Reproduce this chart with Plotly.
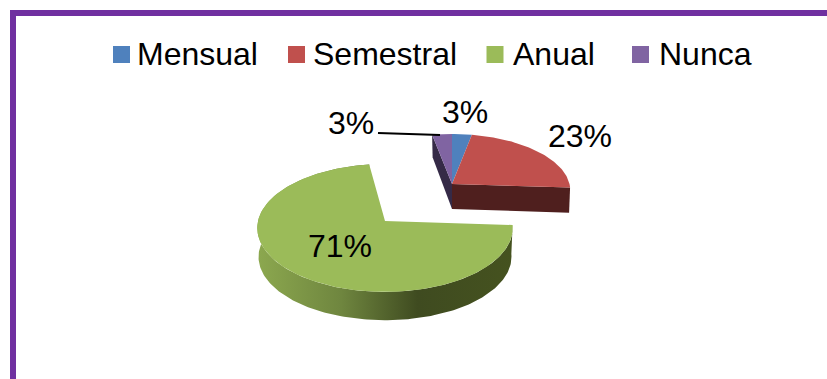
import math
import plotly.graph_objects as go

categories = ["Mensual", "Semestral", "Anual", "Nunca"]
values = [3, 23, 71, 3]
colors = ["#4F81BD", "#C0504D", "#9BBB59", "#8064A2"]

# layout of the hand-placed legend and labels (pixels)
legend_swatch_x = [121.5, 296.5, 495, 640.5]
legend_text_x = [137, 313, 513, 659]
label_pos = [(465, 111.5), (580, 136), (340, 246), (351, 123)]

W, H = 827, 379
PERSP = 0.109
FONT = "Liberation Sans, Arial, sans-serif"
FS = 32


def project(cx, cy, rx, ry, pct):
    a = 2 * math.pi * pct / 100.0
    u, v = math.sin(a), math.cos(a)
    d = 1 + PERSP * v
    return cx + rx * u / d, cy - ry * v / d, d


def arc(cx, cy, rx, ry, p0, p1, drop=0.0, shrink=1.0):
    n = max(2, int(abs(p1 - p0) * 3))
    xs, ys = [], []
    for i in range(n + 1):
        p = p0 + (p1 - p0) * i / n
        x, y, d = project(cx, cy, rx * shrink, ry * shrink, p)
        xs.append(x)
        ys.append(y + drop)
    return xs, ys


starts = [sum(values[:i]) for i in range(len(values))]
ends = [sum(values[: i + 1]) for i in range(len(values))]

up = dict(cx=452, cy=184, rx=117.5, ry=55.5)
gr = dict(cx=385, cy=221, rx=127, ry=63.2)
up_depth, gr_depth = 25, 29
gr_end_trim = 0.8  # the exploded slice's back edge leans a little in the perspective view

fig = go.Figure()


def poly(xs, ys, color):
    fig.add_trace(go.Scatter(x=xs + xs[:1], y=ys + ys[:1], mode="lines", fill="toself",
                             fillcolor=color, line=dict(width=0), hoverinfo="skip",
                             showlegend=False))


# green wall
tx, ty = arc(**gr, p0=starts[2], p1=ends[2] + gr_end_trim)
bx, by = arc(**gr, p0=starts[2], p1=ends[2] + gr_end_trim, drop=gr_depth, shrink=0.99)
fig.add_trace(go.Scatter(
    x=tx + bx[::-1] + tx[:1], y=ty + by[::-1] + ty[:1], mode="lines", fill="toself",
    line=dict(width=0), hoverinfo="skip", showlegend=False,
    fillgradient=dict(type="horizontal", start=257, stop=512,
                      colorscale=[[0, "#8CA84F"], [0.33, "#6F863F"], [0.63, "#3F4B20"], [1, "#45521F"]]),
))

# green top
poly([gr["cx"]] + tx, [gr["cy"]] + ty, colors[2])

# upper walls
for pct, col, inset in ((ends[1], "#4F1F1E", -1), (starts[3], "#352A47", 0.5)):
    ex, ey, ed = project(**up, pct=pct)
    poly([up["cx"], ex, ex + inset, up["cx"]],
         [up["cy"], ey, ey + up_depth / ed, up["cy"] + up_depth],
         col)

# upper tops
for i in (0, 1, 3):
    x, y = arc(**up, p0=starts[i], p1=ends[i])
    poly([up["cx"]] + x, [up["cy"]] + y, colors[i])

# leader line
fig.add_trace(go.Scatter(x=[378, 440], y=[133, 135], mode="lines", line=dict(color="#000000", width=2),
                         hoverinfo="skip", showlegend=False))

# legend entries
for c, col, sx, lx in zip(categories, colors, legend_swatch_x, legend_text_x):
    fig.add_trace(go.Scatter(x=[sx], y=[54.5], mode="markers", name=c, showlegend=False,
                             marker=dict(symbol="square", size=17, color=col, line=dict(width=0))))
    fig.add_annotation(x=lx, y=53.5, text=c, showarrow=False, xref="x", yref="y", xanchor="left",
                       xshift=-2, font=dict(size=FS, color="#000000", family=FONT))

for (lx, ly), v in zip(label_pos, values):
    fig.add_annotation(x=lx, y=ly, text=f"{v}%", showarrow=False, xref="x", yref="y",
                       font=dict(size=FS, color="#000000", family=FONT))

fig.add_shape(type="line", x0=13, x1=13, y0=13, y1=379, line=dict(color="#7030A0", width=6))
fig.add_shape(type="line", x0=10, x1=827, y0=13, y1=13, line=dict(color="#7030A0", width=6))

fig.update_layout(
    width=W, height=H, margin=dict(l=0, r=0, t=0, b=0), showlegend=False,
    paper_bgcolor="#FFFFFF", plot_bgcolor="#FFFFFF",
    xaxis=dict(range=[0, W], visible=False, fixedrange=True),
    yaxis=dict(range=[H, 0], visible=False, fixedrange=True),
)

fig.write_html("out.html", config={"displayModeBar": False},
               post_script="document.body.style.margin='0';document.body.style.overflow='hidden';")
